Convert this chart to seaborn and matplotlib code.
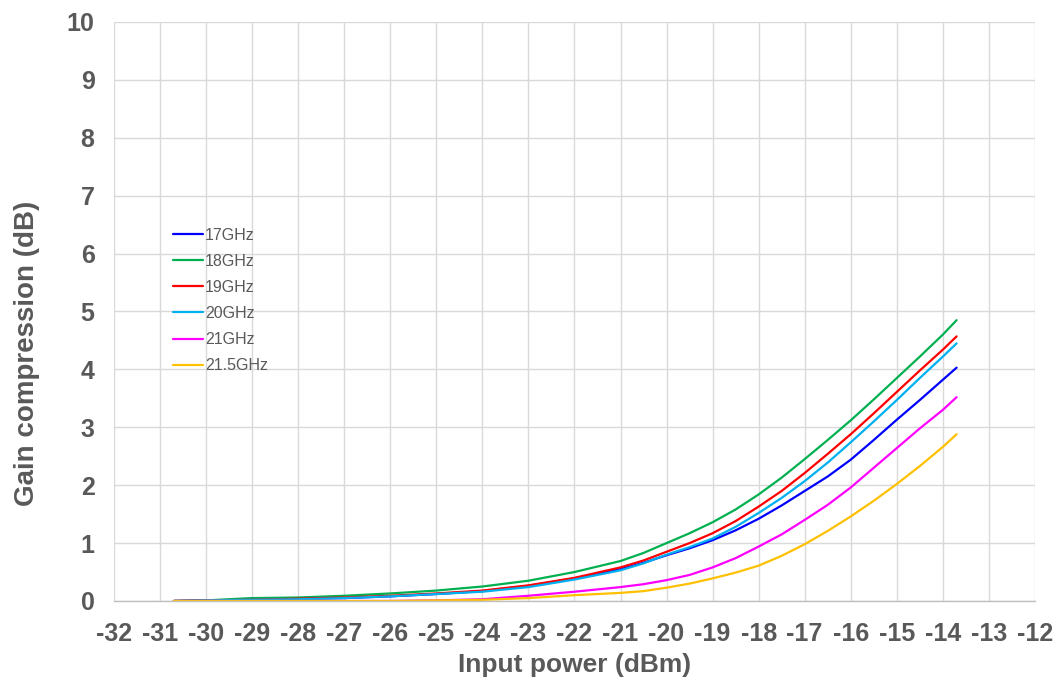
import pandas as pd
import matplotlib
matplotlib.use("Agg")
import matplotlib.pyplot as plt
import seaborn as sns

sns.set_style("white")
plt.rcParams['font.family'] = ['Liberation Sans', 'DejaVu Sans']
plt.rcParams['axes.unicode_minus'] = False

# input power sweep (dBm)
pin = [-30.7, -30, -29, -28, -27, -26, -25, -24, -23, -22, -21, -20.5, -20,
       -19.5, -19, -18.5, -18, -17.5, -17, -16.5, -16, -15.5, -15, -14.5, -14, -13.7]

# gain compression (dB) per frequency
g17 = [0, 0.01, 0.02, 0.04, 0.05, 0.08, 0.12, 0.17, 0.26, 0.39, 0.55, 0.66, 0.79,
       0.91, 1.05, 1.22, 1.42, 1.65, 1.9, 2.15, 2.44, 2.78, 3.13, 3.47, 3.82, 4.03]
g18 = [0, 0.01, 0.05, 0.06, 0.09, 0.13, 0.18, 0.25, 0.35, 0.5, 0.69, 0.83, 1.0,
       1.17, 1.36, 1.58, 1.84, 2.13, 2.45, 2.78, 3.12, 3.48, 3.85, 4.22, 4.6, 4.85]
g19 = [0, 0.01, 0.02, 0.04, 0.06, 0.09, 0.13, 0.18, 0.27, 0.4, 0.58, 0.7, 0.85,
       1.0, 1.17, 1.38, 1.63, 1.9, 2.21, 2.54, 2.88, 3.24, 3.61, 3.98, 4.34, 4.57]
g20 = [0, 0.01, 0.02, 0.03, 0.05, 0.08, 0.12, 0.16, 0.24, 0.37, 0.53, 0.65, 0.8,
       0.93, 1.08, 1.28, 1.52, 1.78, 2.07, 2.39, 2.74, 3.1, 3.47, 3.85, 4.22, 4.45]
g21 = [0, 0, 0, 0, 0, 0, 0.01, 0.03, 0.09, 0.16, 0.24, 0.29, 0.36,
       0.45, 0.58, 0.74, 0.94, 1.15, 1.4, 1.66, 1.96, 2.3, 2.64, 2.98, 3.3, 3.52]
g215 = [0, 0, 0, 0, 0, 0, 0.01, 0.02, 0.05, 0.1, 0.14, 0.17, 0.23,
        0.3, 0.39, 0.49, 0.61, 0.78, 0.98, 1.21, 1.46, 1.73, 2.02, 2.33, 2.66, 2.88]

labels = ['17GHz', '18GHz', '19GHz', '20GHz', '21GHz', '21.5GHz']
colors = ['#0000FF', '#00B050', '#FF0000', '#00B0F0', '#FF00FF', '#FFC000']
series = [g17, g18, g19, g20, g21, g215]

rows = []
for lab, vals in zip(labels, series):
    for x, y in zip(pin, vals):
        rows.append((lab, x, y))
df = pd.DataFrame(rows, columns=['freq', 'pin', 'gain'])

fig = plt.figure(figsize=(10.56, 6.79), dpi=100)
ax = fig.add_axes([0.108, 0.1149, 0.872, 0.8527])

sns.lineplot(data=df, x='pin', y='gain', hue='freq', hue_order=labels,
             palette=colors, linewidth=1.6, sort=False, estimator=None, ax=ax)

txt = '#595959'
ax.set_xlim(-32, -12)
ax.set_ylim(0, 10)
ax.set_xticks(range(-32, -11))
ax.set_yticks(range(0, 11))
ax.grid(True, color='#D9D9D9', linewidth=1.0)
ax.set_axisbelow(True)
for s in ['top', 'right', 'left']:
    ax.spines[s].set_visible(False)
ax.spines['bottom'].set_color('#BFBFBF')
ax.spines['bottom'].set_linewidth(1.0)
ax.tick_params(axis='both', length=0, labelsize=18, colors=txt)
ax.tick_params(axis='x', pad=15)
ax.tick_params(axis='y', pad=14)
for t in ax.get_xticklabels() + ax.get_yticklabels():
    t.set_fontweight('bold')

ax.set_xlabel('Input power (dBm)', fontsize=19, fontweight='bold', color=txt, labelpad=5)
ax.set_ylabel('Gain compression (dB)', fontsize=20, fontweight='bold', color=txt,
              labelpad=19, y=0.428)

leg = ax.legend(loc='upper left', bbox_to_anchor=(0.064, 0.645), frameon=False,
                fontsize=11.5, handlelength=1.9, handletextpad=0.1,
                labelspacing=0.7, borderpad=0, borderaxespad=0)
for t in leg.get_texts():
    t.set_color(txt)

fig.savefig('out.png', dpi=100)
